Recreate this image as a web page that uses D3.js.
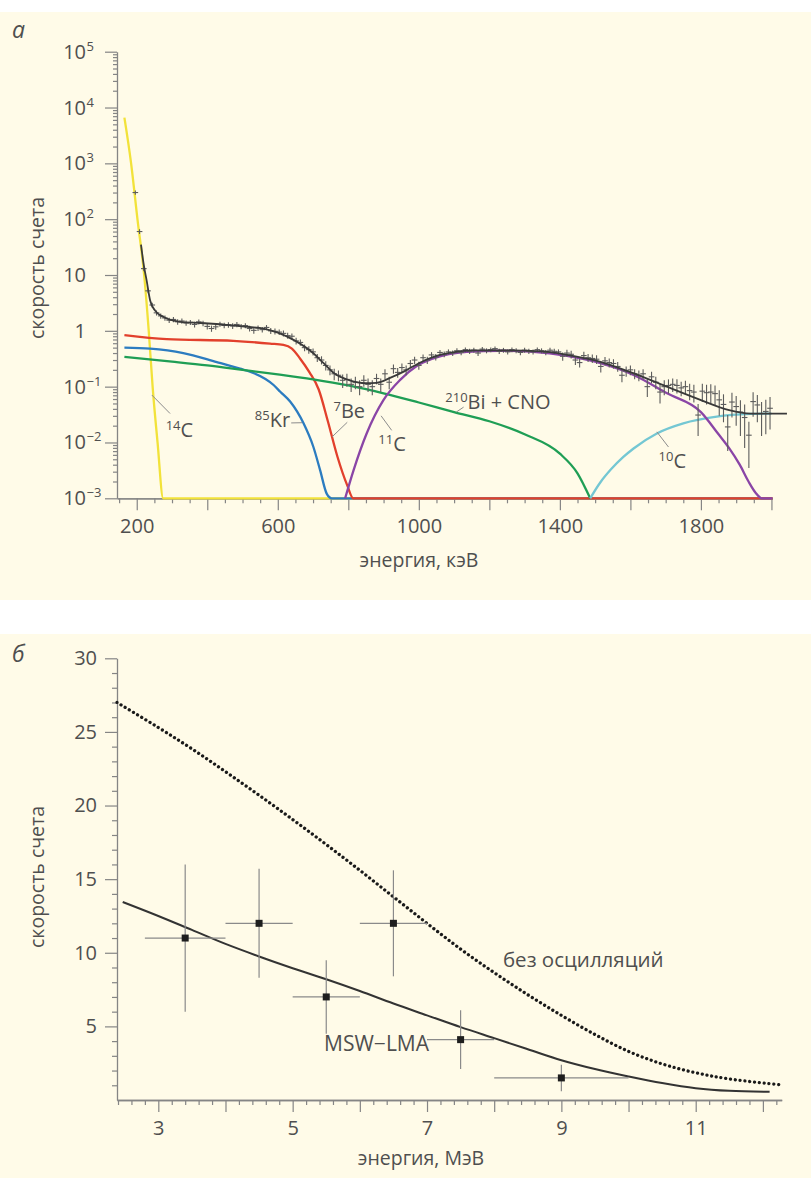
<!DOCTYPE html>
<html>
<head>
<meta charset="utf-8">
<script src="https://cdn.jsdelivr.net/npm/d3@7"></script>
<style>
  body { margin: 0; background: #ffffff; }
  svg { display: block; }
  text { font-family: "Open Sans", "Noto Sans", sans-serif; fill: #4f4f4f; }
</style>
</head>
<body>
<svg id="chart" width="811" height="1178"></svg>
<script>
// ---------- Panel а: Borexino energy spectrum (log scale) ----------
const yDecades = [-3, -2, -1, 0, 1, 2, 3, 4, 5];
const xTicksA = [200, 400, 600, 800, 1000, 1200, 1400, 1600, 1800, 2000];
const xLabelsA = [200, 600, 1000, 1400, 1800];

// component fits: [energy keV, count rate]
const curveC14 = [[165,6600],[184,1000],[202,100],[221,10],[234,1],[245,0.1],[259,0.01],[275,0.001],[2003,0.001]];
const curveKr85 = [[165,0.50],[238,0.48],[332,0.40],[427,0.275],[493,0.21],[521,0.186],[588,0.107],[607,0.081],[635,0.054],[673,0.022],[701,0.0083],[720,0.0032],[739,0.0012],[753,0.001],[2003,0.001]];
const curveBe7 = [[165,0.84],[285,0.71],[474,0.66],[578,0.59],[616,0.56],[640,0.48],[663,0.32],[690,0.18],[716,0.089],[742,0.024],[769,0.0056],[797,0.0017],[814,0.001],[2003,0.001]];
const curveBiCNO = [[165,0.34],[300,0.28],[400,0.24],[500,0.20],[600,0.166],[700,0.135],[800,0.105],[900,0.076],[1000,0.052],[1100,0.035],[1200,0.024],[1300,0.014],[1400,0.0063],[1450,0.0028],[1486,0.001]];
const curveC11 = [[791,0.001],[815,0.0032],[852,0.0145],[900,0.058],[947,0.132],[994,0.234],[1041,0.32],[1136,0.42],[1231,0.44],[1325,0.42],[1420,0.355],[1515,0.263],[1609,0.162],[1704,0.076],[1800,0.035],[1850,0.014],[1880,0.0079],[1910,0.004],[1935,0.002],[1955,0.00126],[1973,0.001],[2003,0.001]];
const curveC10 = [[1486,0.001],[1514,0.0019],[1545,0.0033],[1580,0.0055],[1609,0.0078],[1675,0.0145],[1750,0.022],[1845,0.029],[1940,0.0324],[2000,0.033]];
const curveTotal = [[212,35],[220,15],[228,8],[238,3.5],[252,2.3],[275,1.78],[323,1.45],[380,1.38],[465,1.26],[520,1.17],[559,1.1],[600,0.93],[650,0.66],[700,0.40],[730,0.263],[760,0.174],[800,0.132],[850,0.115],[880,0.117],[920,0.145],[960,0.19],[1000,0.263],[1050,0.355],[1100,0.417],[1150,0.447],[1250,0.447],[1350,0.427],[1420,0.372],[1500,0.295],[1600,0.182],[1700,0.102],[1800,0.0575],[1880,0.038],[1940,0.033],[2044,0.033]];

// measured spectrum: bin energy, rate, error
const specE = [196,208,220,232,244,256,268,280,292,304,
  316,328,340,352,364,376,388,400,412,424,
  436,448,460,472,484,496,508,520,532,544,
  556,568,580,592,604,616,628,640,652,664,
  676,688,700,712,724,736,748,760,772,784,
  796,808,820,832,844,856,868,880,892,904,
  916,928,940,952,964,976,988,1000,1012,1024,
  1036,1048,1060,1072,1084,1096,1108,1120,1132,1144,
  1156,1168,1180,1192,1204,1216,1228,1240,1252,1264,
  1276,1288,1300,1312,1324,1336,1348,1360,1372,1384,
  1396,1408,1420,1432,1444,1456,1468,1480,1492,1504,
  1516,1528,1540,1552,1564,1576,1588,1600,1612,1624,
  1636,1648,1660,1672,1684,1696,1708,1720,1732,1744,
  1756,1768,1780,1792,1804,1816,1828,1840,1852,1864,
  1876,1888,1900,1912,1924,1936,1948,1960,1972,1984,
  1996];
const specRate = [300,60,13,5.2,2.9,2.1,1.85,1.7,1.55,1.6,
  1.45,1.5,1.38,1.42,1.3,1.45,1.36,1.2,1.1,1.18,
  1.32,1.25,1.28,1.22,1.3,1.2,1.24,1.1,1.02,1.12,
  1.05,1.15,1.0,0.98,0.95,0.9,0.82,0.8,0.66,0.62,
  0.5,0.46,0.42,0.33,0.3,0.24,0.2,0.17,0.16,0.13,
  0.135,0.11,0.12,0.1,0.13,0.11,0.1,0.14,0.11,0.17,
  0.12,0.21,0.18,0.22,0.2,0.26,0.3,0.24,0.33,0.3,
  0.37,0.34,0.41,0.38,0.42,0.4,0.44,0.41,0.46,0.43,
  0.45,0.4,0.47,0.44,0.46,0.48,0.43,0.45,0.42,0.46,
  0.44,0.41,0.45,0.43,0.42,0.46,0.44,0.41,0.45,0.43,
  0.42,0.35,0.4,0.38,0.3,0.27,0.36,0.33,0.32,0.31,
  0.23,0.29,0.27,0.26,0.23,0.16,0.19,0.2,0.17,0.16,
  0.17,0.1,0.15,0.12,0.08,0.1,0.105,0.11,0.105,0.095,
  0.1,0.085,0.08,0.031,0.083,0.078,0.08,0.075,0.058,0.048,
  0.019,0.053,0.044,0.035,0.028,0.0135,0.054,0.047,0.033,0.036,
  0.041];
const specErr = [25,6,1.3,0.5,0.3,0.22,0.2,0.18,0.17,0.17,
  0.16,0.16,0.15,0.15,0.15,0.15,0.15,0.14,0.14,0.14,
  0.14,0.14,0.14,0.14,0.14,0.13,0.13,0.13,0.13,0.13,
  0.12,0.12,0.12,0.12,0.11,0.11,0.1,0.1,0.09,0.08,
  0.07,0.07,0.06,0.055,0.05,0.045,0.04,0.04,0.035,0.035,
  0.035,0.03,0.03,0.03,0.03,0.03,0.03,0.03,0.03,0.035,
  0.03,0.04,0.035,0.04,0.04,0.04,0.045,0.04,0.045,0.045,
  0.045,0.045,0.045,0.045,0.045,0.045,0.045,0.045,0.045,0.045,
  0.045,0.045,0.045,0.045,0.045,0.045,0.045,0.045,0.045,0.045,
  0.045,0.045,0.045,0.045,0.045,0.045,0.045,0.045,0.045,0.045,
  0.045,0.06,0.06,0.06,0.055,0.05,0.06,0.055,0.055,0.055,
  0.05,0.05,0.05,0.05,0.045,0.04,0.04,0.04,0.035,0.035,
  0.035,0.035,0.035,0.03,0.03,0.03,0.03,0.03,0.03,0.028,
  0.028,0.028,0.028,0.018,0.03,0.03,0.03,0.03,0.028,0.025,
  0.012,0.025,0.024,0.022,0.02,0.01,0.025,0.024,0.02,0.022,
  0.024];

// ---------- Panel б: 8B neutrino rate vs energy ----------
const yTicksB = [5, 10, 15, 20, 25, 30];
const xLabelsB = [3, 5, 7, 9, 11];
const pointE = [3.4, 4.5, 5.5, 6.5, 7.5, 9.0];
const pointRate = [11, 12, 7, 12, 4.1, 1.5];
const pointErrY = [5, 3.7, 2.5, 3.6, 2, 0.9];
const pointErrX = [0.6, 0.5, 0.5, 0.5, 0.5, 1.0];
const noOscillation = [[2.385,27.0],[3,25.3],[3.5,23.85],[4,22.3],[4.5,20.7],[5,19.05],[5.5,17.35],[6,15.6],[6.5,13.8],[7,12.0],[7.5,10.25],[8,8.65],[8.5,7.15],[9,5.75],[9.5,4.45],[10,3.3],[10.5,2.45],[11,1.85],[11.5,1.43],[12.28,1.02]];
const mswLma = [[2.47,13.45],[3,12.5],[3.5,11.55],[4,10.6],[4.5,9.75],[5,8.95],[5.5,8.2],[6,7.4],[6.5,6.55],[7,5.75],[7.5,4.95],[8,4.2],[8.5,3.45],[9,2.7],[9.5,2.1],[10,1.6],[10.5,1.15],[11,0.8],[11.5,0.62],[12.1,0.56]];

const svg = d3.select("#chart");
const cream = "#fffbe8";
const axisColor = "#858585";
const textColor = "#4f4f4f";

svg.append("rect").attr("x", 0).attr("y", 12).attr("width", 811).attr("height", 588).attr("fill", cream);
svg.append("rect").attr("x", 0).attr("y", 634).attr("width", 811).attr("height", 544).attr("fill", cream);

function styleAxis(g) {
  g.selectAll("path.domain").attr("stroke", axisColor).attr("stroke-width", 1.3);
  g.selectAll(".tick line").attr("stroke", axisColor).attr("stroke-width", 1.2);
  g.selectAll(".tick text").attr("fill", textColor).attr("font-size", 20)
    .attr("font-family", '"Open Sans", "Noto Sans", sans-serif');
}

// ===== Panel а =====
const xA = d3.scaleLinear().domain([144, 2003]).range([117, 772.5]);
const yA = d3.scaleLog().domain([1e-3, 1e5]).range([498.3, 51.7]);

// minor log ticks
const minorA = [];
yDecades.slice(0, -1).forEach(d => { for (let k = 2; k <= 9; k++) minorA.push(k * Math.pow(10, d)); });
const gYAminor = svg.append("g").attr("transform", "translate(117,0)")
  .call(d3.axisLeft(yA).tickValues(minorA).tickSize(4).tickFormat("").tickSizeOuter(0));
styleAxis(gYAminor);
gYAminor.select("path.domain").remove();
const gYA = svg.append("g").attr("transform", "translate(117,0)")
  .call(d3.axisLeft(yA).tickValues(yDecades.map(d => Math.pow(10, d))).tickSize(12).tickFormat("").tickSizeOuter(0));
styleAxis(gYA);

// decade labels with superscript exponents
yDecades.forEach(d => {
  const yy = yA(Math.pow(10, d));
  const base = d === 0 ? "1" : "10";
  svg.append("text").attr("x", 86).attr("y", yy + 7).attr("text-anchor", "end")
    .attr("font-size", 20).attr("fill", textColor).text(base);
  if (d !== 0 && d !== 1) {
    svg.append("text").attr("x", 86.5).attr("y", yy - 1).attr("text-anchor", "start")
      .attr("font-size", 13).attr("fill", textColor).text(d < 0 ? "\u2212" + (-d) : String(d));
  }
});

const minorXA = [];
for (let v = 150; v <= 2000; v += 50) if (v % 200 !== 0) minorXA.push(v);
const gXAminor = svg.append("g").attr("transform", "translate(0,498.3)")
  .call(d3.axisBottom(xA).tickValues(minorXA).tickSize(5).tickFormat("").tickSizeOuter(0));
styleAxis(gXAminor);
const gXA = svg.append("g").attr("transform", "translate(0,498.3)")
  .call(d3.axisBottom(xA).tickValues(xTicksA).tickSize(12).tickPadding(9).tickSizeOuter(0)
    .tickFormat(v => xLabelsA.includes(v) ? String(v) : ""));
styleAxis(gXA);

svg.append("text").attr("transform", "translate(44,268) rotate(-90)").attr("text-anchor", "middle")
  .attr("font-size", 19.5).attr("fill", textColor).text("скорость счета");
svg.append("text").attr("x", 419).attr("y", 567).attr("text-anchor", "middle")
  .attr("font-size", 19.5).attr("fill", textColor).text("энергия, кэВ");
svg.append("text").attr("x", 12).attr("y", 38).attr("font-size", 23).attr("font-style", "italic")
  .attr("fill", "#333").text("а");

const lineA = d3.line().x(d => xA(d[0])).y(d => yA(d[1])).curve(d3.curveMonotoneX);
const comps = [
  { data: curveC14, color: "#f2e23a" },
  { data: curveKr85, color: "#2c7cc0" },
  { data: curveBe7, color: "#e2402c" },
  { data: curveBiCNO, color: "#1f9e55" },
  { data: curveC10, color: "#74c7d3" },
  { data: curveC11, color: "#8a45a6" }
];
comps.forEach(c => {
  svg.append("path").datum(c.data).attr("d", lineA).attr("fill", "none")
    .attr("stroke", c.color).attr("stroke-width", 2.3).attr("stroke-linejoin", "round");
});

// measured points with error crosses
const gPts = svg.append("g").attr("stroke", "#5c5c5c").attr("stroke-width", 1.1);
specE.forEach((e, i) => {
  const v = specRate[i], err = specErr[i];
  const lo = Math.max(v - err, 1.2e-3);
  gPts.append("line").attr("x1", xA(e)).attr("x2", xA(e)).attr("y1", yA(v + err)).attr("y2", yA(lo));
  gPts.append("line").attr("x1", xA(e - 8)).attr("x2", xA(e + 8)).attr("y1", yA(v)).attr("y2", yA(v));
});

svg.append("path").datum(curveTotal).attr("d", lineA).attr("fill", "none")
  .attr("stroke", "#3a3a3a").attr("stroke-width", 1.8);

// component labels with leader lines
const compLabels = [
  { sup: "14", main: "C", e: 282, v: 0.0126, anchor: "start", lead: [[242.6, 0.071], [294.5, 0.033]] },
  { sup: "85", main: "Kr", e: 635, v: 0.019, anchor: "end", lead: [[638, 0.0224], [669, 0.0226]] },
  { sup: "7", main: "Be", e: 758, v: 0.027, anchor: "start", lead: [[797, 0.023], [754, 0.0126]] },
  { sup: "11", main: "C", e: 885, v: 0.0071, anchor: "start", lead: [[893, 0.03], [923, 0.0165]] },
  { sup: "210", main: "Bi + CNO", e: 1075, v: 0.039, anchor: "start", lead: [[1106, 0.035], [1127, 0.043]] },
  { sup: "10", main: "C", e: 1680, v: 0.0035, anchor: "start", lead: [[1675, 0.0155], [1708, 0.0083]] }
];
compLabels.forEach(l => {
  svg.append("line").attr("x1", xA(l.lead[0][0])).attr("y1", yA(l.lead[0][1]))
    .attr("x2", xA(l.lead[1][0])).attr("y2", yA(l.lead[1][1]))
    .attr("stroke", "#8c8c8c").attr("stroke-width", 1);
  const t = svg.append("text").attr("x", xA(l.e)).attr("y", yA(l.v)).attr("text-anchor", l.anchor)
    .attr("font-size", 20).attr("fill", "#3f3f3f");
  t.append("tspan").attr("font-size", 13).attr("dy", -7).text(l.sup);
  t.append("tspan").attr("dy", 7).text(l.main);
});

// ===== Panel б =====
const xB = d3.scaleLinear().domain([2.385, 12.28]).range([117, 781.7]);
const yB = d3.scaleLinear().domain([0, 30]).range([1100, 658.3]);

const minorYB = d3.range(1, 30).filter(v => v % 5 !== 0);
const gYBminor = svg.append("g").attr("transform", "translate(117,0)")
  .call(d3.axisLeft(yB).tickValues(minorYB).tickSize(5).tickFormat("").tickSizeOuter(0));
styleAxis(gYBminor);
gYBminor.select("path.domain").remove();
const gYB = svg.append("g").attr("transform", "translate(117,0)")
  .call(d3.axisLeft(yB).tickValues(yTicksB).tickSize(12).tickPadding(8).tickSizeOuter(0).tickFormat(d3.format("d")));
styleAxis(gYB);

const minorXB = [];
for (let k = 12; k <= 61; k++) if (k % 5 !== 0) minorXB.push(k / 5);
const gXBminor = svg.append("g").attr("transform", "translate(0,1100)")
  .call(d3.axisBottom(xB).tickValues(minorXB).tickSize(5).tickFormat("").tickSizeOuter(0));
styleAxis(gXBminor);
const gXB = svg.append("g").attr("transform", "translate(0,1100)")
  .call(d3.axisBottom(xB).tickValues(d3.range(3, 13)).tickSize(12).tickPadding(9).tickSizeOuter(0)
    .tickFormat(v => xLabelsB.includes(v) ? String(v) : ""));
styleAxis(gXB);

svg.append("text").attr("transform", "translate(44,877) rotate(-90)").attr("text-anchor", "middle")
  .attr("font-size", 19.5).attr("fill", textColor).text("скорость счета");
svg.append("text").attr("x", 421).attr("y", 1165).attr("text-anchor", "middle")
  .attr("font-size", 19.5).attr("fill", textColor).text("энергия, МэВ");
svg.append("text").attr("x", 12).attr("y", 662).attr("font-size", 23).attr("font-style", "italic")
  .attr("fill", "#333").text("б");

const lineB = d3.line().x(d => xB(d[0])).y(d => yB(d[1])).curve(d3.curveCatmullRom.alpha(0.5));
svg.append("path").datum(noOscillation).attr("d", lineB).attr("fill", "none")
  .attr("stroke", "#1a1a1a").attr("stroke-width", 3.3).attr("stroke-linecap", "round")
  .attr("stroke-dasharray", "0.01 4.8");
svg.append("path").datum(mswLma).attr("d", lineB).attr("fill", "none")
  .attr("stroke", "#333").attr("stroke-width", 2);

const gB = svg.append("g");
pointE.forEach((e, i) => {
  const v = pointRate[i];
  gB.append("line").attr("x1", xB(e)).attr("x2", xB(e)).attr("y1", yB(v + pointErrY[i])).attr("y2", yB(v - pointErrY[i]))
    .attr("stroke", "#8a8a8a").attr("stroke-width", 1.2);
  gB.append("line").attr("x1", xB(e - pointErrX[i])).attr("x2", xB(e + pointErrX[i])).attr("y1", yB(v)).attr("y2", yB(v))
    .attr("stroke", "#8a8a8a").attr("stroke-width", 1.2);
  gB.append("rect").attr("x", xB(e) - 3.5).attr("y", yB(v) - 3.5).attr("width", 7).attr("height", 7).attr("fill", "#1e1e1e");
});

svg.append("text").attr("x", xB(7.03)).attr("y", yB(3.3)).attr("text-anchor", "end")
  .attr("font-size", 21).attr("fill", "#3f3f3f").text("MSW\u2212LMA");
svg.append("text").attr("x", xB(8.13)).attr("y", yB(9.0)).attr("text-anchor", "start")
  .attr("font-size", 20.5).attr("fill", "#3f3f3f").text("без осцилляций");
</script>
</body>
</html>
